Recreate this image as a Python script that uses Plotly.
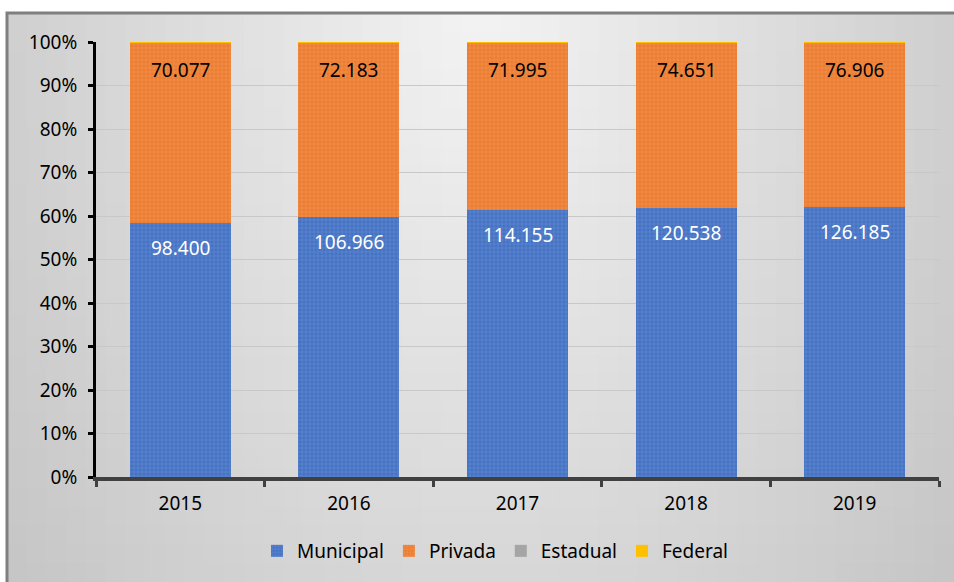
import math
import plotly.graph_objects as go

anos = ["2015", "2016", "2017", "2018", "2019"]
municipal = [98400, 106966, 114155, 120538, 126185]
privada = [70077, 72183, 71995, 74651, 76906]
estadual = [0, 0, 0, 0, 0]
federal = [50, 50, 50, 50, 50]
y_ticks = [0, 10, 20, 30, 40, 50, 60, 70, 80, 90, 100]
y_tick_labels = ["0%", "10%", "20%", "30%", "40%", "50%", "60%", "70%", "80%", "90%", "100%"]


def fmt(v):
    return f"{v:,}".replace(",", ".")


FONT = "Noto Sans"
W, H = 954, 582
ML, MR, MT, MB = 96, 15, 42, 105
PW, PH = W - ML - MR, H - MT - MB


def xp(px):
    return (px - ML) / PW


def yp(py):
    return (H - MB - py) / PH


fig = go.Figure()

series = [
    ("Municipal", municipal, "#4472c4", True),
    ("Privada", privada, "#ed7d31", True),
    ("Estadual", estadual, "#a5a5a5", False),
    ("Federal", federal, "#ffc000", False),
]
for name, vals, col, pat in series:
    fig.add_trace(go.Bar(
        x=anos, y=vals, name=name,
        marker=dict(
            color=col,
            line=dict(width=0),
            pattern=dict(shape="+", fgcolor="rgba(255,255,255,0.4)", size=4, solidity=0.25) if pat else None,
        ),
        hoverinfo="skip",
    ))

# labels at top of each segment (computed from the data)
totals = [m + p + e + f for m, p, e, f in zip(municipal, privada, estadual, federal)]
annotations = []
for i, a in enumerate(anos):
    top_m = 100 * municipal[i] / totals[i]
    top_p = 100 * (municipal[i] + privada[i]) / totals[i]
    annotations.append(dict(x=i, y=top_m, xref="x", yref="y", text=fmt(municipal[i]),
                            showarrow=False, yanchor="middle", yshift=-25,
                            font=dict(family=FONT, size=19, color="white")))
    annotations.append(dict(x=i, y=top_p, xref="x", yref="y", text=fmt(privada[i]),
                            showarrow=False, yanchor="middle", yshift=-28,
                            font=dict(family=FONT, size=19, color="black")))

# gradient background
shapes = []
nx, ny = 48, 30
x0p, x1p, y0p, y1p = 7, 954, 13, 582
dxc = (x1p - x0p) / nx
dyc = (y1p - y0p) / ny
for i in range(nx):
    for j in range(ny):
        ax = x0p + dxc * i
        bx = ax + dxc + 1.5
        ay = y0p + dyc * j
        by = ay + dyc + 1.5
        cx, cy = ax + dxc / 2 - 480, ay + dyc / 2 - 15
        b = 243 - math.sqrt((36 * cx / 470) ** 2 + (28 * cy / 560) ** 2)
        b = int(round(b))
        shapes.append(dict(type="rect", xref="paper", yref="paper",
                           x0=xp(ax), x1=xp(min(bx, 960)), y0=yp(min(by, 590)), y1=yp(ay),
                           fillcolor=f"rgb({b},{b},{b})", line=dict(width=0),
                           layer="below"))
shapes.append(dict(type="rect", xref="paper", yref="paper",
                   x0=xp(7), x1=xp(965), y0=yp(600), y1=yp(13),
                   line=dict(color="#7f7f7f", width=3), fillcolor="rgba(0,0,0,0)",
                   layer="above"))

fig.update_layout(
    width=W, height=H,
    margin=dict(l=ML, r=MR, t=MT, b=MB),
    paper_bgcolor="white",
    plot_bgcolor="rgba(0,0,0,0)",
    barmode="stack", barnorm="percent",
    bargap=0.4,
    font=dict(family=FONT, size=19, color="black"),
    shapes=shapes,
    annotations=annotations,
    showlegend=True,
    legend=dict(orientation="h", x=xp(257), xanchor="left", y=yp(551), yanchor="middle",
                font=dict(family=FONT, size=19, color="black"),
                bgcolor="rgba(0,0,0,0)", traceorder="normal", itemwidth=30),
)
fig.update_yaxes(
    range=[0, 100], tickmode="array", tickvals=y_ticks, ticktext=y_tick_labels,
    showline=True, linecolor="black", linewidth=3,
    ticks="outside", ticklen=5, tickwidth=3, tickcolor="black",
    ticklabelstandoff=7,
    showgrid=True, gridcolor="#c8c8c8", gridwidth=1,
    zeroline=False, tickfont=dict(family=FONT, size=19, color="black"),
)
fig.update_xaxes(
    type="category",
    showline=True, linecolor="#404040", linewidth=4,
    ticks="outside", ticklen=6, tickwidth=3, tickcolor="#404040",
    tickson="boundaries", ticklabelstandoff=6,
    tickfont=dict(family=FONT, size=19, color="black"),
)

fig.write_html("out.html", config={"displayModeBar": False},
               post_script="document.body.style.margin='0';")
